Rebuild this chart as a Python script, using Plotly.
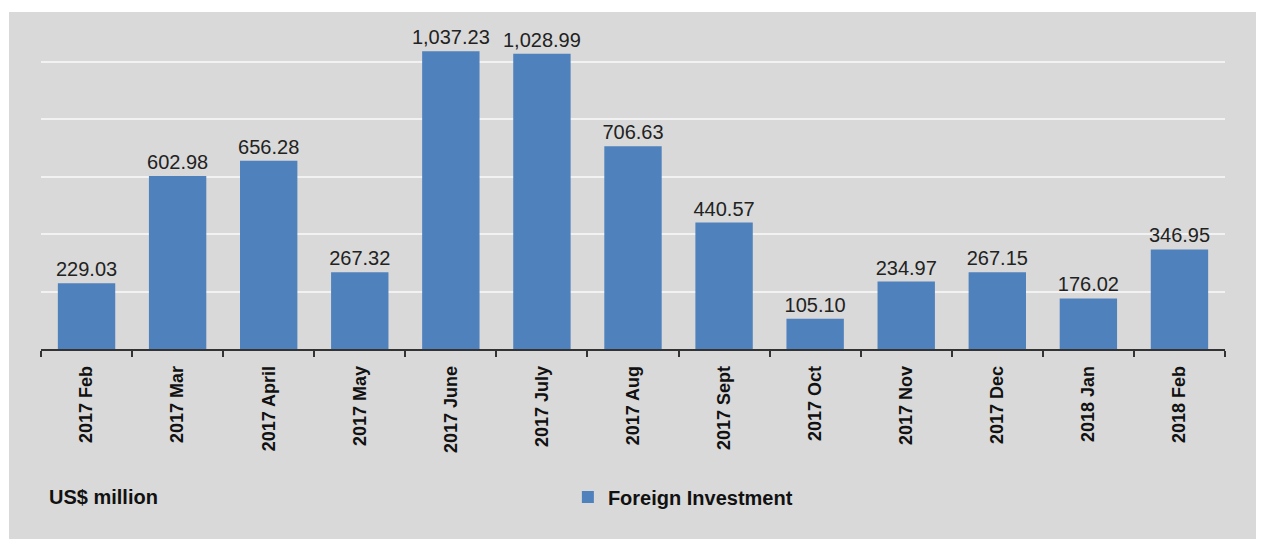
import plotly.graph_objects as go

months = [
    "2017 Feb", "2017 Mar", "2017 April", "2017 May", "2017 June", "2017 July",
    "2017 Aug", "2017 Sept", "2017 Oct", "2017 Nov", "2017 Dec", "2018 Jan", "2018 Feb",
]
investment = [
    229.03, 602.98, 656.28, 267.32, 1037.23, 1028.99,
    706.63, 440.57, 105.10, 234.97, 267.15, 176.02, 346.95,
]
labels = [f"{v:,.2f}" for v in investment]

BAR = "#4f81bd"
BG = "#d9d9d9"
FONT = "Liberation Sans, Arial, sans-serif"

# la page a une marge de 8px, donc la figure est un peu plus petite que la fenetre
W, H = 1256, 531
ML, MR, MT, MB = 33, 39, 32, 190
pw, ph = W - ML - MR, H - MT - MB
px_per_unit = 0.287

fig = go.Figure(
    go.Bar(
        x=months,
        y=investment,
        name="Foreign Investment",
        marker={"color": BAR, "line": {"width": 0}},
        text=labels,
        textposition="outside",
        constraintext="none",
        textfont={"size": 20, "color": "#222222", "family": FONT},
        cliponaxis=False,
        hoverinfo="x+y",
    )
)

# fond gris decale (bande blanche a gauche et en haut)
fig.add_shape(
    type="rect", xref="paper", yref="paper", layer="below",
    x0=(1 - ML) / pw, x1=(W - ML + 10) / pw,
    y0=-(MB + 10) / ph, y1=(ph + MT - 4) / ph,
    fillcolor=BG, line={"width": 0},
)

y_bottom = -(489 - (H - MB)) / ph
fig.add_annotation(
    text="<b>US$ million</b>", xref="paper", yref="paper",
    x=(39 - ML) / pw, y=y_bottom,
    xanchor="left", yanchor="middle", showarrow=False,
    font={"size": 20, "color": "#111111", "family": FONT},
)

fig.update_layout(
    width=W, height=H,
    margin={"l": ML, "r": MR, "t": MT, "b": MB, "pad": 0},
    paper_bgcolor="white",
    plot_bgcolor=BG,
    bargap=0.37,
    font={"family": FONT, "color": "#111111"},
    showlegend=True,
    legend={
        "orientation": "h", "x": 0.445, "y": y_bottom,
        "xanchor": "left", "yanchor": "middle",
        "bgcolor": "rgba(0,0,0,0)",
        "font": {"size": 20, "family": FONT, "color": "#111111", "weight": "bold"},
        "itemwidth": 30,
    },
    xaxis={
        "tickangle": -90,
        "tickfont": {"size": 18, "family": FONT, "color": "#111111", "weight": "bold"},
        "showline": True, "linecolor": "#333333", "linewidth": 1.5,
        "ticks": "outside", "tickson": "boundaries", "ticklen": 6,
        "tickcolor": "#333333", "tickwidth": 1.5,
        "ticklabelstandoff": 8,
        "showgrid": False,
    },
    yaxis={
        "range": [0, ph / px_per_unit],
        "dtick": 200,
        "showticklabels": False,
        "showgrid": True, "gridcolor": "#f2f2f2", "gridwidth": 1.5,
        "zeroline": False, "showline": False,
    },
)

fig.write_html("out.html")
